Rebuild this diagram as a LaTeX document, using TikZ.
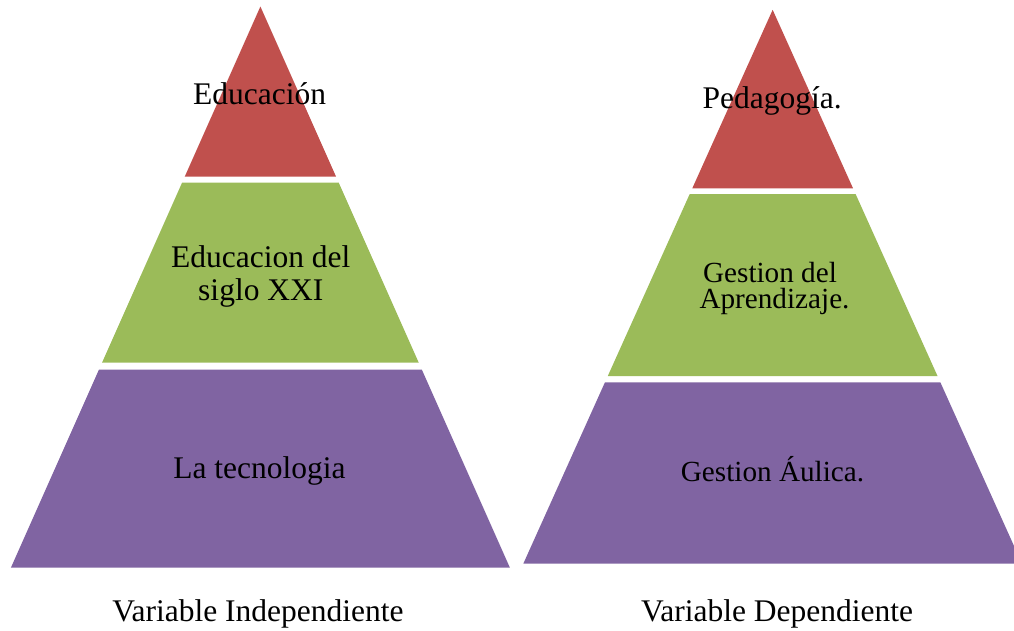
\documentclass[tikz,border=0pt]{standalone}
\usepackage{fontspec}
\setmainfont{Liberation Serif}
\definecolor{pyrred}{HTML}{C0504D}
\definecolor{pyrgreen}{HTML}{9BBB59}
\definecolor{pyrpurple}{HTML}{8064A2}
\tikzset{
  big/.style={anchor=base,inner sep=0pt,font=\fontsize{31.5}{32.7}\selectfont},
  mid/.style={anchor=base,inner sep=0pt,font=\fontsize{29.2}{26}\selectfont},
}
\begin{document}
\begin{tikzpicture}[x=1pt,y=-1pt]
\useasboundingbox (0,0) rectangle (1014,630);
\begin{scope}
\clip (0,0) rectangle (1014,630);
% left pyramid
\fill[pyrred] (260.4,6.5) -- (336.07,176.7) -- (184.73,176.7) -- cycle;
\fill[pyrgreen] (182.06,182.7) -- (338.74,182.7) -- (418.77,362.7) -- (102.03,362.7) -- cycle;
\fill[pyrpurple] (99.01,369.5) -- (421.79,369.5) -- (509.91,567.7) -- (10.89,567.7) -- cycle;
% right pyramid
\fill[pyrred] (772.65,9.8) -- (853.01,188.3) -- (692.29,188.3) -- cycle;
\fill[pyrgreen] (689.63,194.2) -- (855.67,194.2) -- (937.51,376) -- (607.79,376) -- cycle;
\fill[pyrpurple] (604.95,382.3) -- (940.35,382.3) -- (1022.01,563.7) -- (523.29,563.7) -- cycle;
\end{scope}
% labels
\node[big] (t1) at (259.7,104) {Educación};
\node[big,align=center] (t2) at (260.8,300) {Educacion del\\siglo XXI};
\node[big] (t4) at (259.5,478.3) {La tecnologia};
\node[big] (r1) at (772.2,108.3) {Pedagogía.};
\node[mid,align=center] (r2) at (774.5,308.3) {Gestion del\hspace*{9pt}\\Aprendizaje.};
\node[mid] (r4) at (772.5,481.7) {Gestion Áulica.};
\node[big] (c1) at (258,621) {Variable Independiente};
\node[big] (c2) at (777,621) {Variable Dependiente};
\end{tikzpicture}
\end{document}
